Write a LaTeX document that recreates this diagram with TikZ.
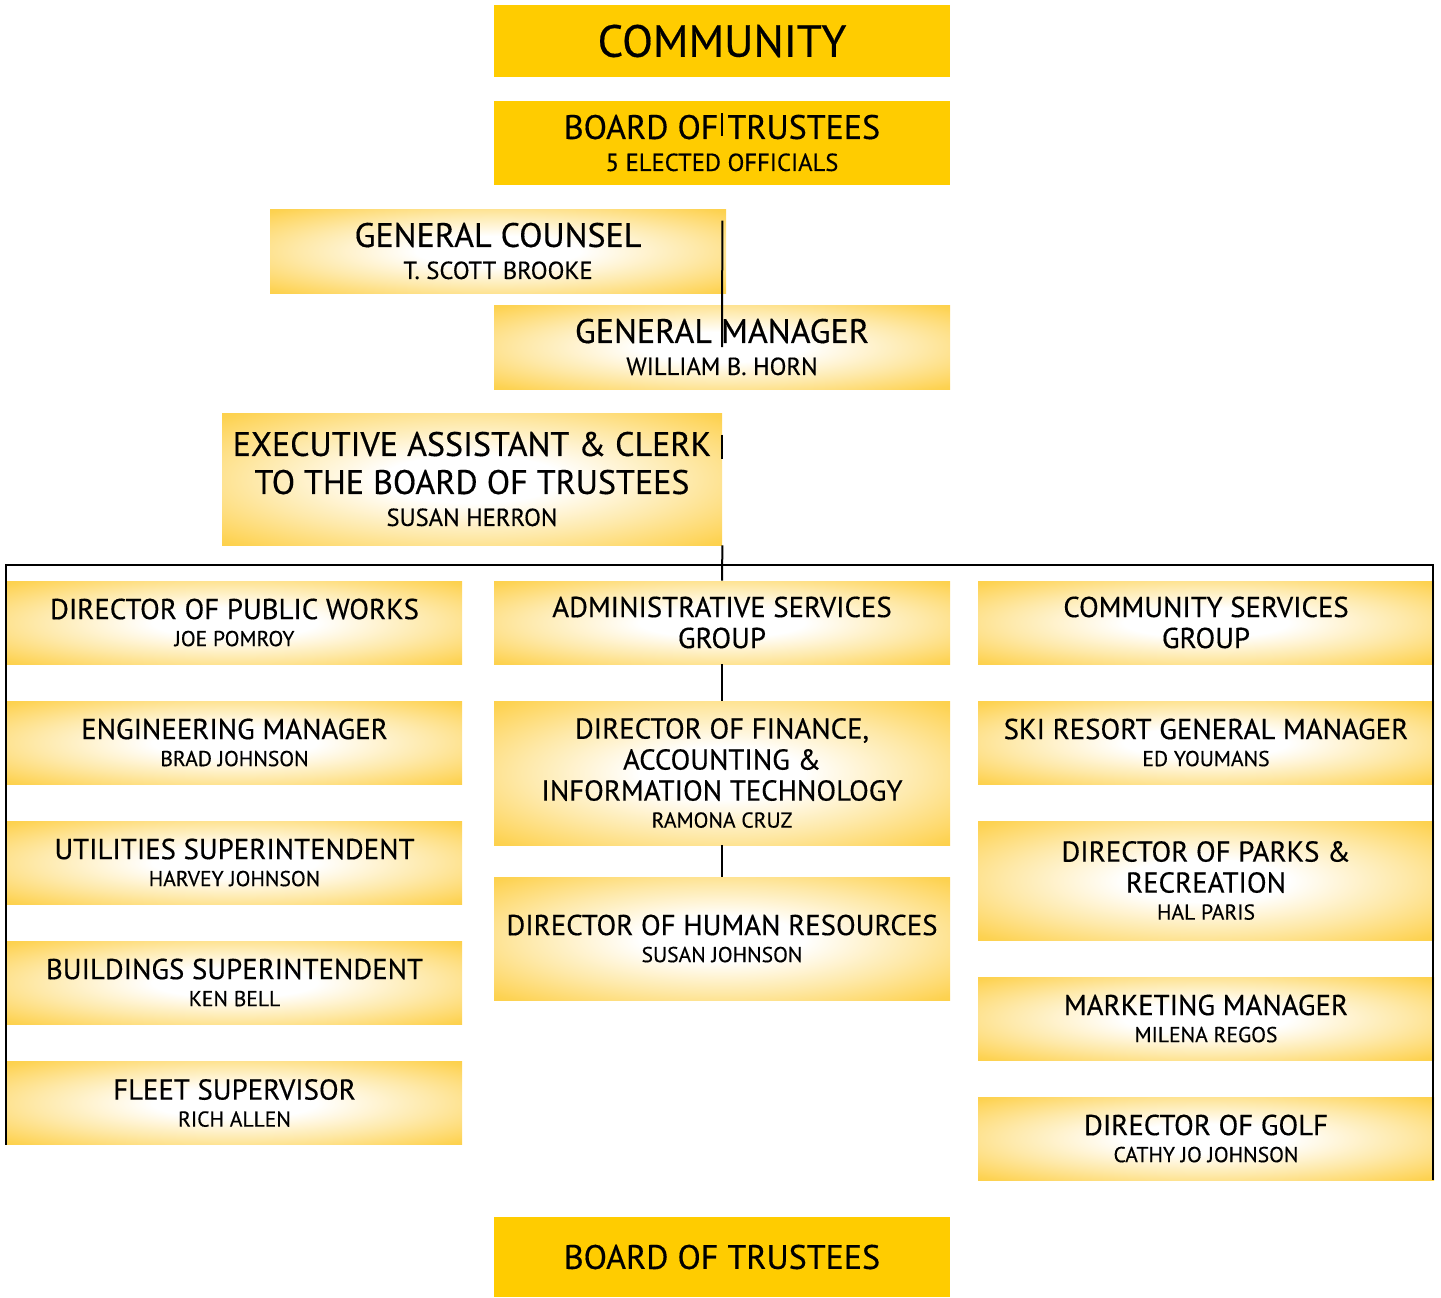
\documentclass[tikz,border=0pt]{standalone}
\usepackage{fontspec}
\setmainfont{PT Sans}[FakeBold=0.4]
\usetikzlibrary{positioning,calc}

\definecolor{plainYellow}{RGB}{255,204,0}
\definecolor{glowYellow}{RGB}{253,199,38}
\pgfdeclareradialshading{glow}{\pgfpoint{0bp}{0bp}}{color(0bp)=(white); color(9bp)=(white); color(22bp)=(glowYellow!40!white); color(34bp)=(glowYellow!80!white); color(44bp)=(glowYellow); color(100bp)=(glowYellow)}

\newcommand{\bigName}{\fontsize{12.3}{14}\selectfont}
\newcommand{\smallName}{\fontsize{10.8}{12}\selectfont}

\tikzset{
    plainBox/.style={fill=plainYellow, minimum width=228pt, minimum height=42pt, inner sep=0pt, align=center, font=\fontsize{17}{19}\selectfont},
    glowBox/.style={shading=glow, minimum width=228pt, minimum height=42pt, inner sep=0pt, align=center, font=\fontsize{17}{19}\selectfont},
    unitBox/.style={glowBox, minimum width=227.5pt, minimum height=41.5pt, font=\fontsize{14.4}{15.5}\selectfont},
    link/.style={draw=black, line width=1pt}
}

\begin{document}
\begin{tikzpicture}[x=0.5pt, y=-0.5pt]
	\useasboundingbox (0,0) rectangle (1441,1297);
	% top of the chart
	\node[plainBox, minimum height=36pt, font=\fontsize{22.5}{24}\selectfont] (community) at (722,41) {COMMUNITY};
	\node[plainBox] (trustees) at (722,143) {BOARD OF TRUSTEES\\[-3pt]{\bigName 5 ELECTED OFFICIALS}};
	\node[glowBox] (counsel) at (498,251) {GENERAL COUNSEL\\[-3pt]{\bigName T. SCOTT BROOKE}};
	\node[glowBox] (manager) at (722,347) {GENERAL MANAGER\\[-3pt]{\bigName WILLIAM B. HORN}};
	\node[glowBox, minimum width=250pt, minimum height=66pt] (clerk) at (472,479) {EXECUTIVE ASSISTANT \& CLERK\\TO THE BOARD OF TRUSTEES\\[-3pt]{\bigName SUSAN HERRON}};
	% left column
	\node[unitBox] (works) at (234.5,622.5) {DIRECTOR OF PUBLIC WORKS\\[-2pt]{\smallName JOE POMROY}};
	\node[unitBox] (engineer) at (234.5,742.5) {ENGINEERING MANAGER\\[-2pt]{\smallName BRAD JOHNSON}};
	\node[unitBox] (utilities) at (234.5,862.5) {UTILITIES SUPERINTENDENT\\[-2pt]{\smallName HARVEY JOHNSON}};
	\node[unitBox] (buildings) at (234.5,982.5) {BUILDINGS SUPERINTENDENT\\[-2pt]{\smallName KEN BELL}};
	\node[unitBox] (fleet) at (234.5,1103) {FLEET SUPERVISOR\\[-2pt]{\smallName RICH ALLEN}};
	% middle column
	\node[unitBox, minimum width=228pt] (admin) at (722,622.5) {ADMINISTRATIVE SERVICES\\GROUP};
	\node[unitBox, minimum width=228pt, minimum height=72pt] (finance) at (722,773) {DIRECTOR OF FINANCE,\\ACCOUNTING \&\\INFORMATION TECHNOLOGY\\[-2pt]{\smallName RAMONA CRUZ}};
	\node[unitBox, minimum width=228pt, minimum height=61.5pt] (hr) at (722,938.5) {DIRECTOR OF HUMAN RESOURCES\\[-2pt]{\smallName SUSAN JOHNSON}};
	% right column
	\node[unitBox, minimum width=228pt] (services) at (1206,622.5) {COMMUNITY SERVICES\\GROUP};
	\node[unitBox, minimum width=228pt] (ski) at (1206,742.5) {SKI RESORT GENERAL MANAGER\\[-2pt]{\smallName ED YOUMANS}};
	\node[unitBox, minimum width=228pt, minimum height=59.5pt] (parks) at (1206,880.5) {DIRECTOR OF PARKS \&\\RECREATION\\[-2pt]{\smallName HAL PARIS}};
	\node[unitBox, minimum width=228pt] (marketing) at (1206,1018.5) {MARKETING MANAGER\\[-2pt]{\smallName MILENA REGOS}};
	\node[unitBox, minimum width=228pt] (golf) at (1206,1138.5) {DIRECTOR OF GOLF\\[-2pt]{\smallName CATHY JO JOHNSON}};
	% bottom
	\node[plainBox, minimum height=40pt] (board) at (722,1257) {BOARD OF TRUSTEES};

	% connectors
	\draw[link] ($(trustees.center)+(0,-30)$) -- ($(trustees.center)+(0,-7)$);
	\draw[link] ($(counsel.north east)+(-4,12)$) -- (manager.center);
	\draw[link] ($(clerk.north east)+(0,22)$) -- ($(clerk.north east)+(0,46)$);
	\draw[link] (clerk.south east) -- (admin.north);
	\coordinate (barLeft) at (6,565);
	\coordinate (barRight) at (1433,565);
	\draw[link] (barLeft |- fleet.south) -- (barLeft) -- (barRight) -- (barRight |- golf.south);
	\draw[link] (admin.south) -- (finance.north);
	\draw[link] (finance.south) -- (hr.north);
\end{tikzpicture}
\end{document}
